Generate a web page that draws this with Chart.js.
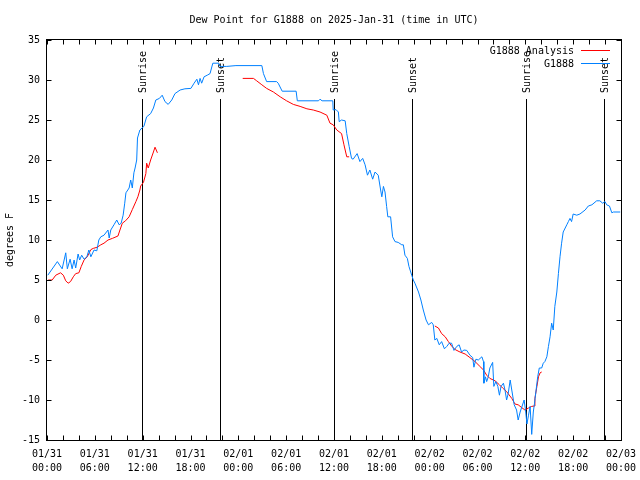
<!DOCTYPE html>
<html>
<head>
<meta charset="utf-8">
<script src="https://cdn.jsdelivr.net/npm/chart.js@4/dist/chart.umd.min.js"></script>
<style>
html,body{margin:0;padding:0;background:#fff;}
canvas{display:block;}
</style>
</head>
<body>
<canvas id="c" width="640" height="480"></canvas>
<script>
// ---- data (hours since 2025-01-31 00:00 UTC) ----
const chartTitle = 'Dew Point for G1888 on 2025-Jan-31 (time in UTC)';
const yAxisTitle = 'degrees F';
const tickHours = [0,6,12,18,24,30,36,42,48,54,60,66,72];
const tickLabels = ['01/31\n00:00','01/31\n06:00','01/31\n12:00','01/31\n18:00',
  '02/01\n00:00','02/01\n06:00','02/01\n12:00','02/01\n18:00',
  '02/02\n00:00','02/02\n06:00','02/02\n12:00','02/02\n18:00','02/03\n00:00'];
const sunHours = [11.95, 21.75, 36.05, 45.8, 60.1, 69.9];
const sunLabels = ['Sunrise','Sunset','Sunrise','Sunset','Sunrise','Sunset'];

const obsHours = [0.1,1.3,1.9,2.35,2.55,2.9,3.15,3.4,3.6,3.9,
 4.1,4.35,4.65,5.0,5.25,5.5,5.9,6.25,6.5,6.75,
 7.15,7.65,7.8,8.0,8.4,8.75,9.05,9.3,9.55,9.75,
 9.9,10.3,10.5,10.7,10.9,11.05,11.25,11.35,11.65,12.15,
 12.5,13.0,13.35,13.65,14.1,14.45,14.8,15.2,15.65,16.05,
 16.7,17.3,18.05,18.45,18.8,19.0,19.2,19.4,19.7,20.1,
 20.45,20.8,21.5,21.7,22.55,23.7,26.95,27.15,27.55,28.8,
 29.0,29.5,31.25,31.4,34.05,34.25,34.5,35.85,35.9,36.25,
 36.55,36.65,36.95,37.4,37.6,37.9,38.2,38.4,38.9,39.25,
 39.6,39.9,40.2,40.5,40.85,41.15,41.55,41.85,42.0,42.2,
 42.4,42.6,42.75,43.1,43.35,43.65,44.05,44.5,44.7,44.9,
 45.2,45.4,45.75,45.95,46.15,46.6,46.9,47.2,47.55,47.85,
 48.25,48.45,48.65,48.9,49.2,49.5,49.85,50.15,50.45,50.75,
 51.05,51.4,51.7,52.0,52.3,52.65,53.05,53.4,53.55,53.8,
 54.1,54.55,54.75,54.8,55.0,55.15,55.35,55.55,55.9,56.05,
 56.3,56.55,56.75,56.95,57.25,57.45,57.65,57.85,58.1,58.3,
 58.6,58.9,59.1,59.35,59.6,59.85,60.05,60.2,60.4,60.6,
 60.8,61.0,61.15,61.35,61.55,61.75,62.05,62.25,62.45,62.7,
 62.9,63.1,63.3,63.5,63.7,63.95,64.15,64.35,64.55,64.75,
 65.0,65.2,65.4,65.6,65.8,66.0,66.45,66.85,67.5,67.9,
 68.35,68.95,69.35,69.7,70.0,70.2,70.55,70.85,71.05,71.9];
const obsDew = [5.6,7.3,6.4,8.4,6.4,7.6,6.4,7.5,6.5,8.25,
 7.5,8.1,7.6,7.9,8.75,7.9,8.75,8.65,10,10.4,
 10.6,11.25,10.25,11.25,11.9,12.5,11.9,12.1,13.1,14.6,
 15.9,16.5,17.5,16.5,18.4,19,20,22.75,23.75,24.2,
 25.4,25.8,26.5,27.5,27.7,28.1,27.3,26.95,27.5,28.3,
 28.75,28.9,28.95,29.6,30.1,29.4,30.2,29.6,30.4,30.6,
 30.8,32.1,32.1,31.7,31.7,31.8,31.8,30.8,29.8,29.8,
 29.6,28.6,28.6,27.4,27.4,27.6,27.4,27.4,26.25,26.3,
 26.0,24.8,25.0,24.9,23.3,21.7,20.2,20.1,20.8,19.8,
 20.2,19.4,18.1,18.75,17.6,18.5,18.1,16.25,15.4,16.7,
 16.0,14.2,12.9,12.9,10.4,9.8,9.7,9.4,9.4,8.1,
 7.7,6.7,5.6,5.0,4.6,3.5,2.5,1.25,0,-0.6,
 -0.3,-0.6,-2.5,-2.3,-3.1,-2.7,-3.6,-3.3,-2.9,-2.9,
 -3.8,-3.3,-3.1,-4.0,-3.75,-3.8,-4.4,-4.7,-5.9,-4.9,
 -5.0,-4.6,-5.2,-7.9,-7.1,-7.7,-7.1,-6.0,-5.3,-8.3,
 -7.7,-8.3,-9.4,-8.3,-7.9,-8.75,-10,-9.2,-7.5,-8.75,
 -10.6,-11.25,-12.5,-11.5,-10.75,-10,-11.5,-13,-11.9,-10.8,
 -14.3,-11.5,-10.4,-8.75,-7.1,-6.0,-6.0,-5.4,-5.2,-4.6,
 -3.3,-2.1,-0.4,-1.25,1.7,3.5,5.8,7.9,9.6,11.0,
 11.5,11.9,12.3,12.7,12.3,13.25,13.1,13.25,13.75,14.25,
 14.4,14.9,14.9,14.6,14.8,14.4,14.25,13.4,13.5,13.5];

// analysis series: null marks a gap between segments
const anaHours = [0.15,0.65,1.1,1.7,2.05,2.35,2.65,2.95,3.3,3.6,
 4.0,4.3,4.65,5.05,5.5,5.8,6.3,6.75,7.15,7.65,
 8.2,8.9,9.15,9.45,9.85,10.3,10.7,11.15,11.4,11.65,
 11.75,12.1,12.4,12.5,12.7,13.0,13.35,13.55,13.85,
 19,
 24.55,25.9,26.3,26.95,27.55,28.4,29.25,30.05,30.9,31.75,
 32.6,33.4,34.25,35.1,35.5,35.9,36.35,36.95,37.25,37.6,37.9,
 43,
 48.65,49.1,49.5,49.95,50.35,50.75,51.2,51.8,52.45,53.05,
 53.7,54.3,54.75,55.15,55.55,56.2,56.75,57.15,57.65,58.3,
 58.7,59.1,59.55,59.95,60.4,60.8,61.1,61.2,61.45,61.65,
 61.85,62.05];
const anaDew = [5.0,5.0,5.6,5.9,5.6,4.9,4.6,4.8,5.4,5.8,
 5.9,6.7,7.5,7.9,8.8,8.95,9.1,9.4,9.6,10,
 10.2,10.5,11.25,12.1,12.4,12.9,13.8,14.8,15.4,16.25,
 16.75,17.2,18.3,19.6,19.0,20.0,21.0,21.6,20.9,
 null,
 30.2,30.2,29.9,29.4,28.95,28.5,27.9,27.4,26.95,26.7,
 26.4,26.25,26.0,25.6,24.6,24.4,23.75,23.3,21.9,20.4,20.4,
 null,
 -0.75,-1.0,-1.7,-2.1,-2.7,-3.25,-3.7,-4.0,-4.25,-4.7,
 -5.2,-5.8,-6.25,-6.9,-7.3,-7.6,-8.1,-8.5,-8.95,-9.8,
 -10.5,-10.6,-10.95,-11.25,-11.0,-10.8,-10.75,-9.8,-8.3,-7.1,
 -6.6,-6.5];

const seriesNames = ['G1888 Analysis', 'G1888'];
const seriesColors = ['#ff0000', '#0080ff'];

// ---- rendering ----
const FAMILY = '"DejaVu Sans Mono", "Liberation Mono", monospace';
const FONT = '10px ' + FAMILY;
const TICK = 5;

const decor = {
  id: 'decor',
  beforeDatasetsDraw(chart) {
    const {ctx, chartArea: a, scales: {x}} = chart;
    ctx.save();
    ctx.strokeStyle = '#000';
    ctx.fillStyle = '#000';
    ctx.lineWidth = 1;
    ctx.font = FONT;
    sunHours.forEach((h, i) => {
      const px = Math.round(x.getPixelForValue(h)) + 0.5;
      ctx.beginPath();
      ctx.moveTo(px, a.bottom);
      ctx.lineTo(px, a.top + 59);
      ctx.stroke();
      ctx.save();
      ctx.translate(px + 1, a.top + 53);
      ctx.rotate(-Math.PI / 2);
      ctx.textAlign = 'left';
      ctx.textBaseline = 'middle';
      ctx.fillText(sunLabels[i], 0, 0);
      ctx.restore();
    });
    ctx.restore();
  },
  afterDatasetsDraw(chart) {
    const {ctx, chartArea: a, scales: {x, y}} = chart;
    ctx.save();
    ctx.strokeStyle = '#000';
    ctx.fillStyle = '#000';
    ctx.lineWidth = 1;
    const L = Math.round(a.left) - 0.5, R = Math.round(a.right) + 0.5;
    const T = Math.round(a.top) - 0.5, B = Math.round(a.bottom) + 0.5;
    ctx.strokeRect(L, T, R - L, B - T);
    ctx.beginPath();
    for (let h = x.min; h <= x.max; h += 2) {
      const px = Math.round(x.getPixelForValue(h)) + 0.5;
      ctx.moveTo(px, B); ctx.lineTo(px, B - TICK);
      ctx.moveTo(px, T); ctx.lineTo(px, T + TICK);
    }
    y.ticks.forEach(t => {
      const py = Math.round(y.getPixelForValue(t.value)) + 0.5;
      ctx.moveTo(L, py); ctx.lineTo(L + TICK, py);
      ctx.moveTo(R, py); ctx.lineTo(R - TICK, py);
    });
    ctx.stroke();

    // legend (gnuplot style, top-right inside plot)
    ctx.font = FONT;
    ctx.textAlign = 'right';
    ctx.textBaseline = 'middle';
    seriesNames.forEach((name, i) => {
      const ry = a.top + 10.5 + i * 13;
      ctx.fillStyle = '#000';
      ctx.fillText(name, a.right - 47, ry + 1);
      ctx.strokeStyle = seriesColors[i];
      ctx.beginPath();
      ctx.moveTo(a.right - 40, ry);
      ctx.lineTo(a.right - 11, ry);
      ctx.stroke();
    });

    // title
    ctx.fillStyle = '#000';
    ctx.textAlign = 'center';
    ctx.fillText(chartTitle, (a.left + a.right) / 2, 20);

    // y axis title
    ctx.save();
    ctx.translate(10, (a.top + a.bottom) / 2);
    ctx.rotate(-Math.PI / 2);
    ctx.textAlign = 'center';
    ctx.textBaseline = 'middle';
    ctx.fillText(yAxisTitle, 0, 0);
    ctx.restore();
    ctx.restore();
  }
};

const obsData = obsHours.map((h, i) => ({x: h, y: obsDew[i]}));
const anaData = anaHours.map((h, i) => ({x: h, y: anaDew[i]}));

new Chart(document.getElementById('c'), {
  type: 'line',
  data: {
    datasets: [
      {label: seriesNames[1], data: obsData, borderColor: seriesColors[1], borderWidth: 1,
       pointRadius: 0, tension: 0, fill: false, spanGaps: false},
      {label: seriesNames[0], data: anaData, borderColor: seriesColors[0], borderWidth: 1,
       pointRadius: 0, tension: 0, fill: false, spanGaps: false}
    ]
  },
  options: {
    responsive: false,
    animation: false,
    devicePixelRatio: 1,
    layout: {padding: {top: 40, right: 19, left: 0, bottom: 0}},
    plugins: {legend: {display: false}, tooltip: {enabled: false}, title: {display: false}},
    scales: {
      x: {
        type: 'linear', min: 0, max: 72,
        afterBuildTicks: s => { s.ticks = tickHours.map(v => ({value: v})); },
        afterFit: s => { s.height = 40; s.paddingLeft = 0; s.paddingRight = 0; },
        grid: {display: false, drawTicks: false},
        border: {display: false},
        ticks: {
          autoSkip: false, maxRotation: 0, minRotation: 0, padding: 7, color: '#000',
          font: {family: FAMILY, size: 10, lineHeight: 1.4},
          callback: v => tickLabels[tickHours.indexOf(v)].split('\n')
        }
      },
      y: {
        min: -15, max: 35,
        afterFit: s => { s.width = 47; s.paddingTop = 0; s.paddingBottom = 0; },
        grid: {display: false, drawTicks: false},
        border: {display: false},
        ticks: {
          stepSize: 5, padding: 7, color: '#000',
          font: {family: FAMILY, size: 10}
        }
      }
    }
  },
  plugins: [decor]
});
</script>
</body>
</html>
